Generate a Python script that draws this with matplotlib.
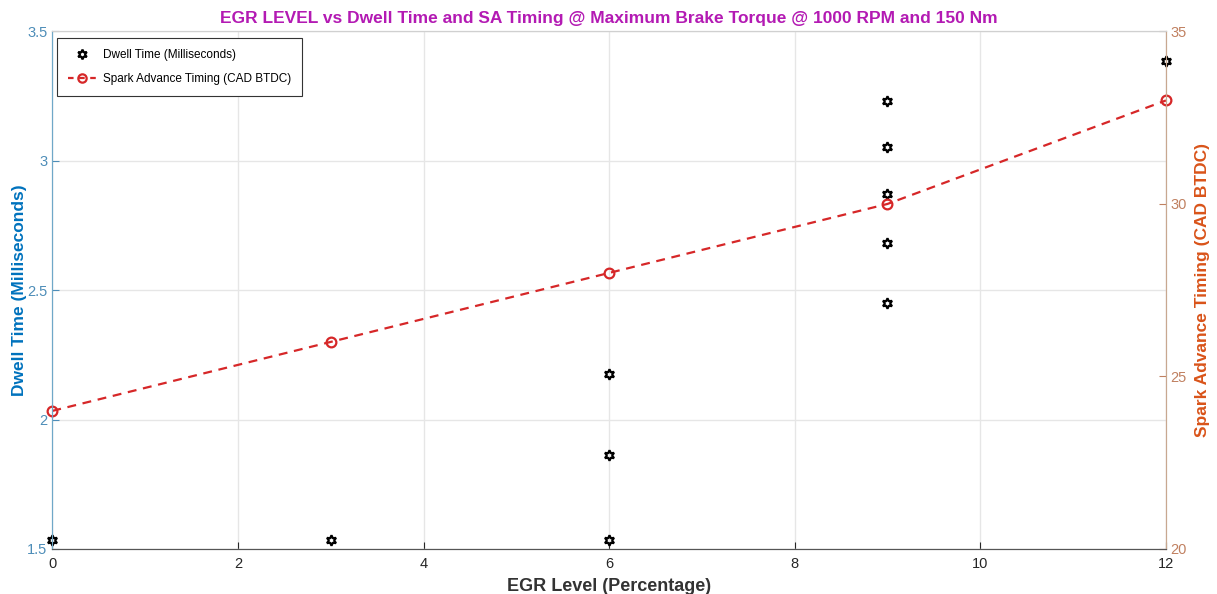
import matplotlib.pyplot as plt
from matplotlib.lines import Line2D

plt.rcParams['font.family'] = ['Liberation Sans', 'DejaVu Sans']

# dwell time measurements at each EGR level
egr_dwell = [0, 3, 6, 6, 6, 9, 9, 9, 9, 9, 12]
dwell_ms = [1.535, 1.535, 1.535, 1.863, 2.176, 3.23, 3.052, 2.871, 2.681, 2.45, 3.384]

# spark advance at MBT
egr_sa = [0, 3, 6, 9, 12]
sa_cad = [24, 26, 28, 30, 33]

blue = '#0072BD'
orange = '#D95319'
tick_grey = '#262626'

fig, ax1 = plt.subplots(figsize=(12.17, 5.94), dpi=100)
fig.subplots_adjust(left=0.043, right=0.958, top=0.947, bottom=0.076)

star6 = (6, 1, 0)
ax1.plot(egr_dwell, dwell_ms, linestyle='none', marker=star6, markersize=7.5,
         markerfacecolor='none', markeredgecolor='black', markeredgewidth=1.6,
         clip_on=False, zorder=5)
ax1.set_xlim(0, 12)
ax1.set_ylim(1.5, 3.5)
ax1.set_xticks(range(0, 13, 2))
ax1.set_yticks([1.5, 2, 2.5, 3, 3.5])
ax1.set_yticklabels(['1.5', '2', '2.5', '3', '3.5'])
ax1.grid(True, color='#e6e6e6', linewidth=1)
ax1.set_axisbelow(True)
ax1.tick_params(axis='x', direction='in', colors=tick_grey, labelsize=10.5, length=5, pad=6)
ax1.tick_params(axis='y', direction='in', colors='#4d8db8', labelsize=10.5, length=5)
ax1.set_xlabel('EGR Level (Percentage)', fontsize=13, fontweight='bold', color='#333333', labelpad=5)
ax1.set_ylabel('Dwell Time (Milliseconds)', fontsize=12.5, fontweight='bold', color=blue, labelpad=0)
ax1.set_title('EGR LEVEL vs Dwell Time and SA Timing @ Maximum Brake Torque @ 1000 RPM and 150 Nm',
              fontsize=12.5, fontweight='bold', color='#B31AB3', pad=6)

ax2 = ax1.twinx()
ax2.plot(egr_sa, sa_cad, linestyle='--', color='#D62728', linewidth=1.6, dashes=(4, 3),
         marker='o', markersize=7, markerfacecolor='none', markeredgecolor='#D62728',
         markeredgewidth=1.6, clip_on=False)
ax2.set_ylim(20, 35)
ax2.set_yticks([20, 25, 30, 35])
ax2.tick_params(axis='y', direction='in', colors='#c08060', labelsize=10.5, length=5)
ax2.set_ylabel('Spark Advance Timing (CAD BTDC)', fontsize=12.5, fontweight='bold', color=orange, labelpad=6)

for ax in (ax1, ax2):
    ax.spines['top'].set_color('#d0d0d0')
    ax.spines['bottom'].set_color('#555555')
    ax.spines['left'].set_color('#6fa8c8')
    ax.spines['right'].set_color('#c8a890')

handles = [
    Line2D([], [], linestyle='none', marker=star6, markersize=7, markerfacecolor='none',
           markeredgecolor='black', markeredgewidth=1.6),
    Line2D([], [], linestyle='--', color='#D62728', linewidth=1.6, dashes=(2.5, 2.5), marker='o',
           markersize=6, markerfacecolor='none', markeredgecolor='#D62728', markeredgewidth=1.6),
]
leg = ax2.legend(handles, ['Dwell Time (Milliseconds)', 'Spark Advance Timing (CAD BTDC)'],
                 loc='upper left', bbox_to_anchor=(0.0045, 0.9865), borderaxespad=0,
                 fontsize=8.5, fancybox=False, framealpha=1, edgecolor='#333333',
                 borderpad=0.9, labelspacing=1.0, handlelength=2.4, handletextpad=0.6)
leg.get_frame().set_linewidth(0.8)

fig.savefig('out.png', dpi=100)
